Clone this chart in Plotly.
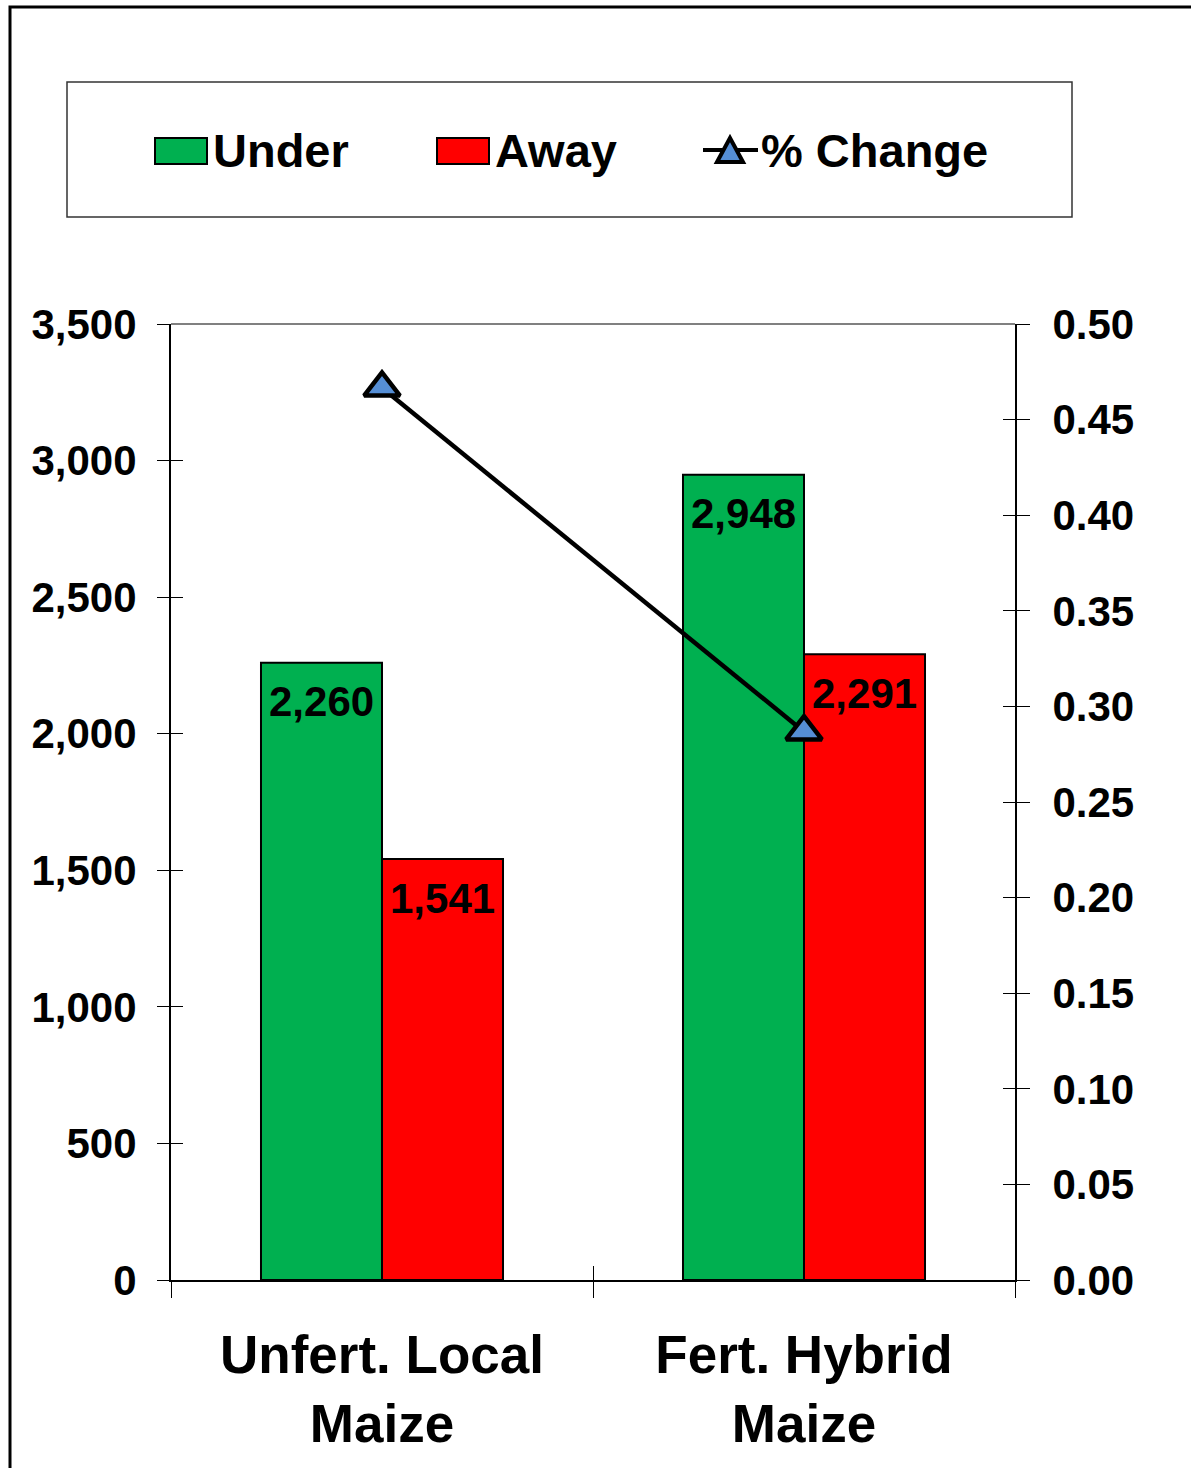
import plotly.graph_objects as go

categories = ["Unfert. Local<br>Maize", "Fert. Hybrid<br>Maize"]
under = [2260, 2948]
away = [1541, 2291]
pct_change = [0.4666, 0.2868]
left_ticks = [0, 500, 1000, 1500, 2000, 2500, 3000, 3500]
right_ticks = [0.00, 0.05, 0.10, 0.15, 0.20, 0.25, 0.30, 0.35, 0.40, 0.45, 0.50]

FONT = "Liberation Sans, Arial, sans-serif"
GREEN = "#00B050"
RED = "#FF0000"
BLUE = "#558ED5"
BARGAP = 0.4265

fig = go.Figure()
fig.add_trace(go.Bar(
    name="Under", x=categories, y=under, marker=dict(color=GREEN, line=dict(color="black", width=2)),
    showlegend=False, hoverinfo="x+y",
))
fig.add_trace(go.Bar(
    name="Away", x=categories, y=away, marker=dict(color=RED, line=dict(color="black", width=2)),
    showlegend=False, hoverinfo="x+y",
))
fig.add_trace(go.Scatter(
    name="% Change", x=categories, y=pct_change, yaxis="y2", mode="lines+markers",
    line=dict(color="black", width=4.5),
    marker=dict(symbol="triangle-up", size=31, color=BLUE, line=dict(color="black", width=4.5)),
    showlegend=False,
))
# empty helper traces so that the inside-tick overlay axes are drawn
fig.add_trace(go.Scatter(x=[None], y=[None], xaxis="x2", yaxis="y3", showlegend=False, hoverinfo="skip"))
fig.add_trace(go.Scatter(x=[None], y=[None], xaxis="x", yaxis="y4", showlegend=False, hoverinfo="skip"))

tickfont = dict(family=FONT, size=42, color="black", weight="bold")

fig.update_layout(
    width=1191, height=1468, autosize=False,
    margin=dict(l=171, r=176, t=324, b=188),
    paper_bgcolor="white", plot_bgcolor="white",
    barmode="group", bargap=BARGAP, bargroupgap=0,
    showlegend=False,
    xaxis=dict(
        type="category", range=[-0.5, 1.5], showline=True, linecolor="black", linewidth=2,
        ticks="outside", tickson="boundaries", ticklen=16, tickcolor="black", tickwidth=1,
        tickfont=dict(family=FONT, size=53, color="black", weight="bold"),
        ticklabelstandoff=27, showgrid=False,
    ),
    xaxis2=dict(
        overlaying="x", anchor="y3", range=[-0.5, 1.5], tickvals=[-0.5, 0.5, 1.5],
        ticks="inside", ticklen=14, tickcolor="black", tickwidth=1,
        showticklabels=False, showline=False, showgrid=False, zeroline=False,
    ),
    yaxis=dict(
        range=[0, 3500], tickvals=left_ticks, tickformat=",", ticks="outside", ticklen=12,
        tickcolor="black", tickwidth=1, showline=True, linecolor="black", linewidth=2,
        tickfont=tickfont, showgrid=False, zeroline=False, ticklabelstandoff=12,
    ),
    yaxis3=dict(
        overlaying="y", anchor="x2", range=[0, 3500], tickvals=left_ticks, ticks="inside",
        ticklen=12, tickcolor="black", tickwidth=1, showticklabels=False, showline=False,
        showgrid=False, zeroline=False,
    ),
    yaxis2=dict(
        overlaying="y", side="right", anchor="x", range=[0, 0.5], tickvals=right_ticks,
        tickformat=".2f", ticks="outside", ticklen=13, tickcolor="black", tickwidth=1,
        showline=True, linecolor="black", linewidth=2, tickfont=tickfont,
        showgrid=False, zeroline=False, ticklabelstandoff=14,
    ),
    yaxis4=dict(
        overlaying="y", side="right", anchor="x", range=[0, 0.5], tickvals=right_ticks,
        ticks="inside", ticklen=12, tickcolor="black", tickwidth=1, showticklabels=False,
        showline=False, showgrid=False, zeroline=False,
    ),
)

# data labels near the top inside each bar
half = (1 - BARGAP) / 4
label_font = dict(family=FONT, size=42, color="black", weight="bold")
for i in range(len(categories)):
    for vals, off in [(under, -half), (away, half)]:
        fig.add_annotation(x=i + off, y=vals[i], xref="x", yref="y", text=f"{vals[i]:,}",
                           showarrow=False, xanchor="center", yanchor="middle", yshift=-39,
                           font=label_font)

# plot-area top border, outer frame and legend box
W, H = 1191, 1468
L, R, T, B = 171, 176, 324, 188
pw, ph = W - L - R, H - T - B
def px(x):
    return (x - L) / pw
def py(y):
    return (H - B - y) / ph

shapes = [
    dict(type="line", xref="paper", yref="paper", x0=0, x1=1, y0=1, y1=1, line=dict(color="#808080", width=2)),
    dict(type="rect", xref="paper", yref="paper", x0=px(10), x1=px(1210), y0=py(1490), y1=py(7),
         line=dict(color="black", width=3)),
    dict(type="rect", xref="paper", yref="paper", x0=px(67), x1=px(1072), y0=py(217), y1=py(82),
         line=dict(color="#333333", width=1.5), fillcolor="rgba(0,0,0,0)"),
    dict(type="rect", xref="paper", yref="paper", x0=px(155), x1=px(207), y0=py(164), y1=py(138),
         fillcolor=GREEN, line=dict(color="black", width=2)),
    dict(type="rect", xref="paper", yref="paper", x0=px(437), x1=px(489), y0=py(164), y1=py(138),
         fillcolor=RED, line=dict(color="black", width=2)),
    dict(type="line", xref="paper", yref="paper", x0=px(703), x1=px(758), y0=py(150), y1=py(150),
         line=dict(color="black", width=4)),
    dict(type="path", xref="paper", yref="paper",
         path=f"M{px(730)},{py(138)} L{px(743)},{py(162)} L{px(717)},{py(162)} Z",
         fillcolor=BLUE, line=dict(color="black", width=4)),
]
fig.update_layout(shapes=shapes)

legend_font = dict(family=FONT, size=47, color="black", weight="bold")
for label, x0 in [("Under", 211), ("Away", 493), ("% Change", 759)]:
    fig.add_annotation(x=px(x0), y=py(151), xref="paper", yref="paper", text=label,
                       showarrow=False, xanchor="left", yanchor="middle", font=legend_font)

fig.write_html("out.html")
